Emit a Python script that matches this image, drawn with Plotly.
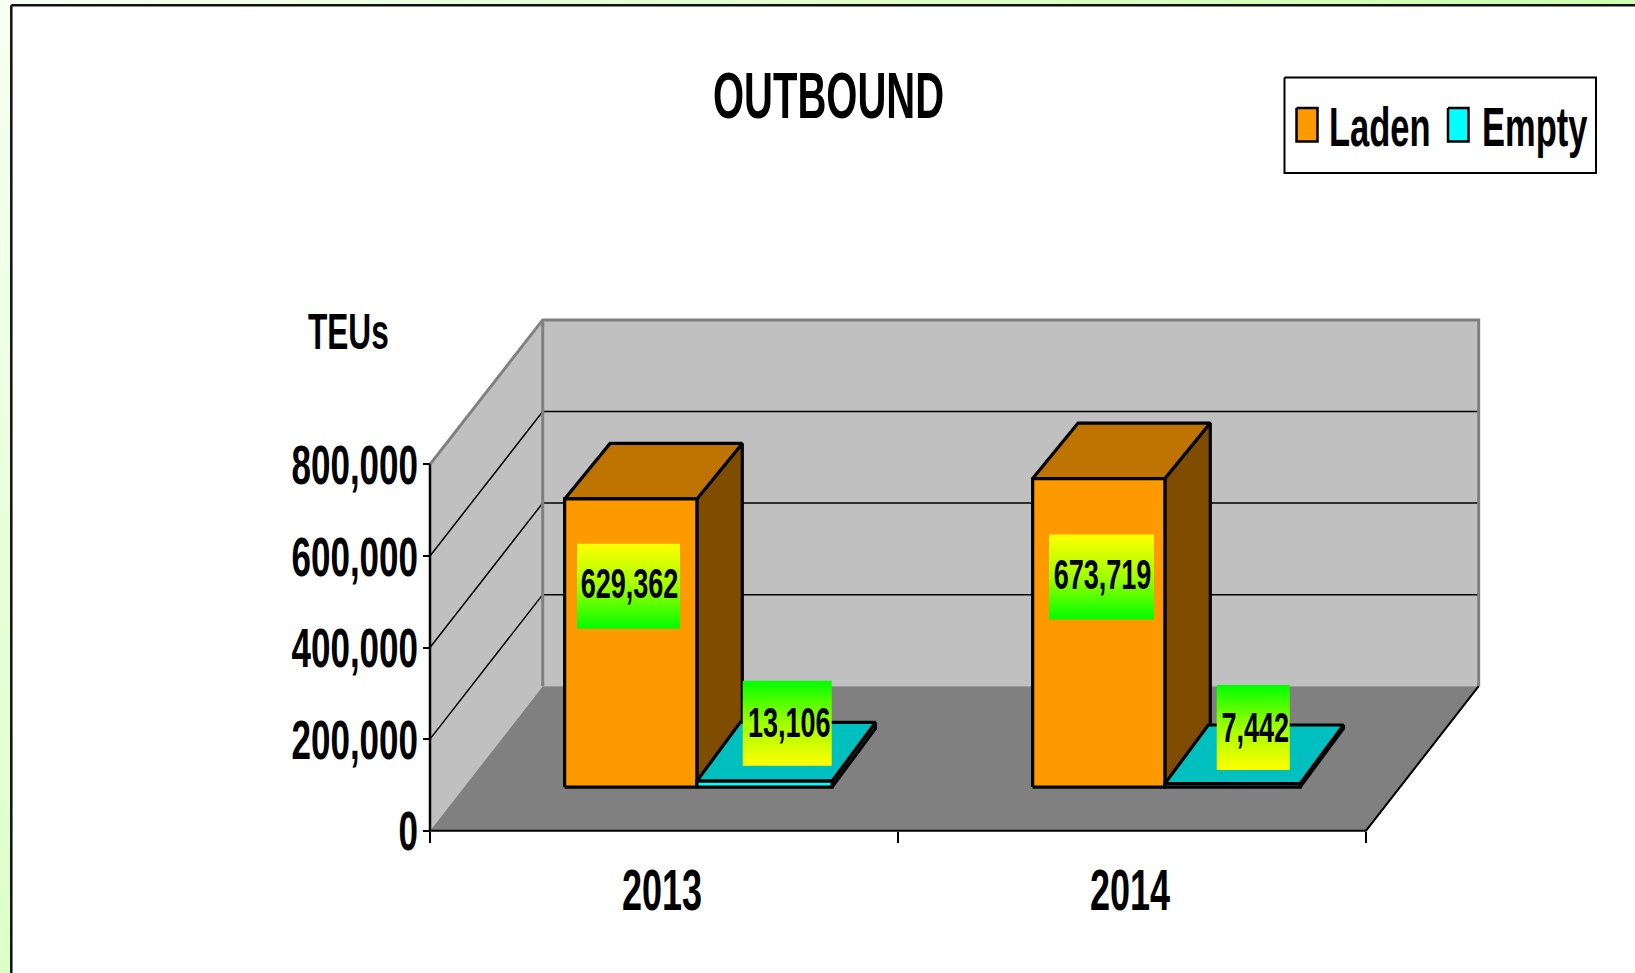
import plotly.graph_objects as go

# ---- data ----
categories = ["2013", "2014"]
series_names = ["Laden", "Empty"]
laden = [629362, 673719]
empty = [13106, 7442]
y_ticks = [0, 200000, 400000, 600000, 800000]

# ---- page geometry (pixel anchors of the oblique axes) ----
W, H = 1635, 973
X0, Y0 = 430, 830.7        # origin of the front wall
PX_CAT = 468.0             # pixels per category
PX_VAL = 366.3 / 800000    # pixels per TEU
def X(px): return (px - X0) / PX_CAT
def Y(py): return (Y0 - py) / PX_VAL
DX = 112.7 / PX_CAT        # full depth of the box in axis units
DY = 144.5 / PX_VAL
def P(c, v, d=0.0): return (c + d * DX, v + d * DY)
def Q(c, v, dx, dy): return (c + dx * DX, v + dy * DY)

FONT = "Liberation Sans Narrow, Arial Narrow, Liberation Sans, sans-serif"
BAR_F = (0.305, 0.302)        # front face depth (x, y)
BAR_B_LADEN = (0.708, 0.686)  # back face depth (x, y)
BAR_B_EMPTY = (0.690, 0.708)
BAR = 1 / 3.5
GAP = 0.75 * BAR
SPLIT = 1.5 / PX_CAT          # laden face is a touch narrower than empty

fig = go.Figure()

def poly(points, fill=None, line=None, width=0, gradient=None):
    xs = [p[0] for p in points]
    ys = [p[1] for p in points]
    kw = {}
    if fill or gradient:
        kw["fill"] = "toself"
    if fill:
        kw["fillcolor"] = fill
    if gradient:
        kw["fillgradient"] = gradient
    fig.add_trace(go.Scatter(x=xs, y=ys, mode="lines", hoverinfo="skip", showlegend=False,
                             line=dict(color=line or "rgba(0,0,0,0)", width=width, shape="linear"), **kw))

def rect(x0, y0, x1, y1): return [(X(x0), Y(y0)), (X(x1), Y(y0)), (X(x1), Y(y1)), (X(x0), Y(y1)), (X(x0), Y(y0))]

# ---- outer page background strips ----
poly(rect(0, 0, 12, H), gradient=dict(type="vertical", colorscale=[[0, "#DCFFC8"], [1, "#F7FFF3"]]))
poly(rect(0, 0, W, 5), gradient=dict(type="horizontal", colorscale=[[0, "#F7FFF3"], [1, "#CCFFAA"]]))
# white panel
poly(rect(11.3, 5.2, W + 60, H + 60), fill="#FFFFFF", line="#111111", width=2.5)

# ---- walls and floor ----
ncat = len(categories)
top = y_ticks[-1]
poly([P(0, 0), P(0, top), P(0, top, 1), P(0, 0, 1), P(0, 0)], fill="#C0C0C0")
poly([P(0, 0, 1), P(0, top, 1), P(ncat, top, 1), P(ncat, 0, 1), P(0, 0, 1)], fill="#C0C0C0")
poly([P(0, 0), P(ncat, 0), P(ncat, 0, 1), P(0, 0, 1), P(0, 0)], fill="#808080")
for v in y_ticks[1:-1]:
    poly([P(0, v), P(0, v, 1), P(ncat, v, 1)], line="#000000", width=1.5)
poly([P(0, top), P(0, top, 1), P(ncat, top, 1), P(ncat, 0, 1)], line="#808080", width=3)
poly([P(0, top, 1), P(0, 0, 1)], line="#808080", width=3)
poly([P(ncat, 0, 1), P(ncat, 0), P(0, 0)], line="#000000", width=2)
poly([P(0, 0), P(0, top)], line="#000000", width=2.5)

# ---- bars ----
def box(x0, x1, v, back, front, topc, side):
    fx, fy = BAR_F
    bx, by = back
    poly([Q(x1, 0, fx, fy), Q(x1, 0, bx, by), Q(x1, v, bx, by), Q(x1, v, fx, fy), Q(x1, 0, fx, fy)],
         fill=side, line="#000000", width=3.2)
    poly([Q(x0, v, fx, fy), Q(x1, v, fx, fy), Q(x1, v, bx, by), Q(x0, v, bx, by), Q(x0, v, fx, fy)],
         fill=topc, line="#000000", width=3.2)
    poly([Q(x0, 0, fx, fy), Q(x1, 0, fx, fy), Q(x1, v, fx, fy), Q(x0, v, fx, fy), Q(x0, 0, fx, fy)],
         fill=front, line="#000000", width=3.2)

for i in range(ncat):
    a = i + GAP
    b = a + BAR - SPLIT
    c = a + 2 * BAR
    box(a, b, laden[i], BAR_B_LADEN, "#FF9900", "#BF7300", "#804D00")
    box(b, c, empty[i], BAR_B_EMPTY, "#00FFFF", "#00BFBF", "#008080")

# ---- gradient data labels ----
label_w = {"Laden": [103, 105], "Empty": [89, 73]}
label_h = 85
label_dx = {"Laden": [-3, 2], "Empty": [22, 20]}
label_dy = {"Laden": [1.5, 2.3], "Empty": [-2.7, 0.3]}
text_dx = {"Laden": 1, "Empty": 2}
text_dy = {"Laden": 0, "Empty": 2}
yellow_top = dict(type="vertical", colorscale=[[0, "#00FF00"], [0.5, "#A0FF00"], [1, "#FFFF00"]])
green_top = dict(type="vertical", colorscale=[[0, "#FFFF00"], [0.5, "#A0FF00"], [1, "#00FF00"]])
lx, ly, lt = [], [], []
for i in range(ncat):
    for j, (name, vals) in enumerate(zip(series_names, [laden, empty])):
        v = vals[i]
        cx, cy = P(i + GAP + BAR * (j + 0.5), v / 2, 0.705)
        cx += (label_dx[name][i] - 0.4 * 112.7) / PX_CAT
        cy -= label_dy[name][i] / PX_VAL
        w = label_w[name][i] / 2 / PX_CAT
        h = label_h / 2 / PX_VAL
        poly([(cx - w, cy - h), (cx + w, cy - h), (cx + w, cy + h), (cx - w, cy + h), (cx - w, cy - h)],
             gradient=yellow_top if name == "Laden" else green_top)
        lx.append(cx + text_dx[name] / PX_CAT)
        ly.append(cy - text_dy[name] / PX_VAL)
        lt.append(f"{v:,}")
fig.add_trace(go.Scatter(x=lx, y=ly, text=lt, mode="text", hoverinfo="skip", showlegend=False,
                         textposition="middle center",
                         textfont=dict(family=FONT, size=27, color="#000000", weight="bold")))

# ---- legend ----
poly(rect(1284.5, 77.5, 1596, 173), fill="#FFFFFF", line="#000000", width=2)
poly(rect(1296.5, 108, 1317.5, 141.5), fill="#FF9900", line="#000000", width=2.5)
poly(rect(1448, 108, 1468.5, 141.5), fill="#00FFFF", line="#000000", width=2.5)

annos = [
    dict(x=X(1327), y=Y(127), text=series_names[0], xanchor="left", size=34.5),
    dict(x=X(1480), y=Y(127), text=series_names[1], xanchor="left", size=34.5),
    dict(x=X(348), y=Y(331), text="TEUs", xanchor="center", size=31.6),
    dict(x=X(828), y=Y(96), text="OUTBOUND", xanchor="center", size=40),
]
annotations = [dict(x=a["x"], y=a["y"], text=f"<b>{a['text']}</b>", xanchor=a["xanchor"], yanchor="middle",
                    showarrow=False, xref="x", yref="y",
                    font=dict(family=FONT, size=a["size"], color="#000000")) for a in annos]

fig.update_layout(
    width=W, height=H, margin=dict(l=0, r=0, t=0, b=0), autosize=False,
    paper_bgcolor="#FFFFFF", plot_bgcolor="rgba(0,0,0,0)", showlegend=False, hovermode=False,
    annotations=annotations,
    xaxis=dict(range=[X(0), X(W)], anchor="free", position=(H - Y0) / H, showgrid=False, zeroline=False,
               showline=False, tickmode="array", tickvals=[i + 0.5 - 2 / PX_CAT for i in range(ncat)],
               ticktext=categories, ticks="",
               tickfont=dict(family=FONT, size=36, color="#000000", weight="bold"), ticklabelstandoff=35,
               minor=dict(tickmode="array", tickvals=list(range(ncat + 1)), ticks="outside", ticklen=11,
                          tickwidth=2, tickcolor="#000000", showgrid=False)),
    yaxis=dict(range=[Y(H), Y(0)], anchor="free", position=X0 / W, showgrid=False, zeroline=False,
               showline=False, tickmode="array", tickvals=y_ticks, tickformat=",d", ticks="outside", ticklen=7,
               tickwidth=2, tickcolor="#000000", ticklabelstandoff=-2,
               tickfont=dict(family=FONT, size=35, color="#000000", weight="bold")),
)

# The reference's lettering is a condensed face stretched vertically.
post = """
document.body.style.margin = '0';
document.body.style.overflow = 'hidden';
var S = 1.6;
document.querySelectorAll('svg.main-svg text').forEach(function (t) {
  var b = t.getBBox();
  if (!b.height) return;
  var cy = b.y + b.height / 2;
  var old = t.getAttribute('transform') || '';
  t.setAttribute('transform', old + ' translate(0,' + cy + ') scale(1,' + S + ') translate(0,' + (-cy) + ')');
});
"""
fig.write_html("out.html", post_script=post, config={"displayModeBar": False})
